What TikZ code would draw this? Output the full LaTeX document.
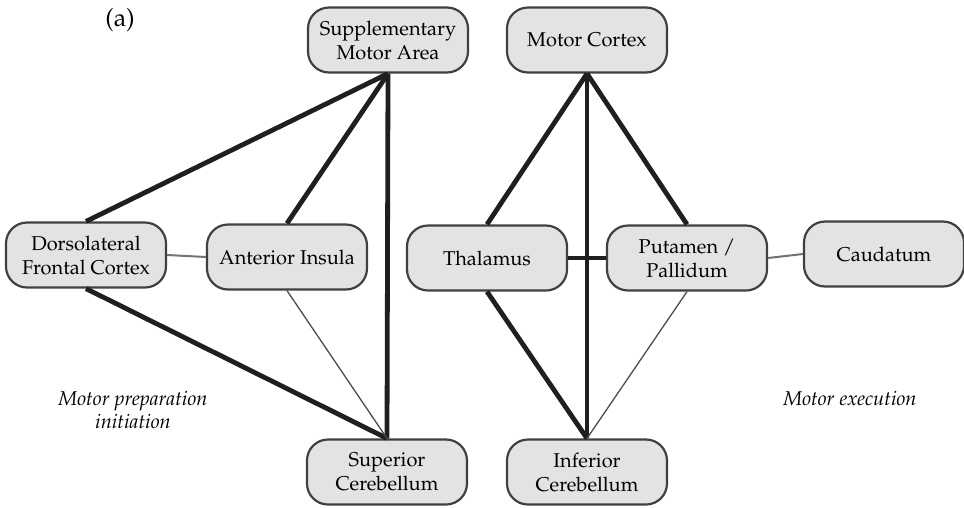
\documentclass[tikz,border=0pt]{standalone}
\usepackage[T1]{fontenc}
\usepackage{mathpazo}

\begin{document}
\begin{tikzpicture}[x=1pt,y=-1pt]
\tikzset{area/.style = {shape=rectangle, rounded corners=21pt, draw=black!75, line width=2.2pt,
                        fill=black!11, minimum width=160pt, minimum height=65pt, inner sep=0pt,
                        align=center, font=\fontsize{20}{24}\selectfont},
         strong/.style = {line width=4.8pt, draw=black!88},
         weak/.style = {line width=1.3pt, draw=black!70},
         plain/.style = {line width=2pt, draw=black!55},
         caption/.style = {align=center, font=\fontsize{20}{23}\selectfont\itshape}}

\useasboundingbox (0,0) rectangle (964,507);

\node[area] (SMA) at (388,40) {Supplementary\\Motor Area};
\node[area] (MC) at (587,40) {Motor Cortex};
\node[area] (DFC) at (86,255) {Dorsolateral\\Frontal Cortex};
\node[area] (AI) at (287,257) {Anterior Insula};
\node[area] (TH) at (487,258) {Thalamus};
\node[area] (PP) at (687,258) {Putamen /\\Pallidum};
\node[area] (CA) at (884,254) {Caudatum};
\node[area] (SC) at (387,472) {Superior\\Cerebellum};
\node[area] (IC) at (587,472) {Inferior\\Cerebellum};

\node[font=\fontsize{25}{28}\selectfont] (lbl) at (120,20) {(a)};
\node[caption] (prep) at (133,410) {Motor preparation\\initiation};
\node[caption] (exec) at (850,398) {Motor execution};

% preparation network
\path [strong] (SMA.south) edge (DFC.north);
\path [strong] (SMA.south) edge (AI.north);
\path [strong] (SMA.south) edge (SC.north);
\path [plain] (DFC.east) edge (AI.west);
\path [strong] (DFC.south) edge (SC.north);
\path [weak] (AI.south) edge (SC.north);

% execution network
\path [strong] (MC.south) edge (TH.north);
\path [strong] (MC.south) edge (PP.north);
\path [strong] (MC.south) edge (IC.north);
\path [strong] (TH.east) edge (PP.west);
\path [strong] (TH.south) edge (IC.north);
\path [weak] (PP.south) edge (IC.north);
\path [plain] (PP.east) edge (CA.west);
\end{tikzpicture}
\end{document}
